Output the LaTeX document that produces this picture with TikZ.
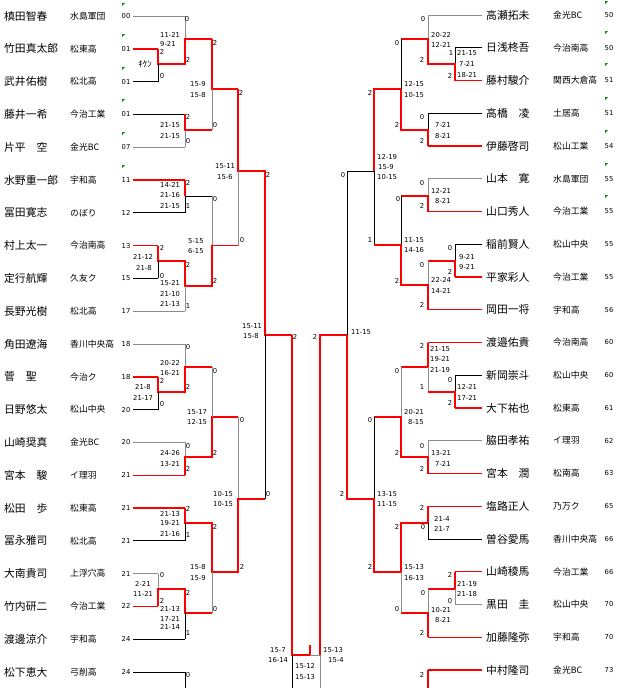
\documentclass[tikz,border=0pt]{standalone}
\usepackage{fontspec}
\setmainfont{Noto Sans CJK JP}
\newfontfamily\scfont{DejaVu Sans}
\usepackage{tikz}
\usetikzlibrary{positioning}

\tikzset{
 win/.style={draw=red, line width=1.4pt},
 lose/.style={draw=black, line width=0.8pt},
 dim/.style={draw=black!45, line width=1pt},
 pname/.style={anchor=west, inner sep=0pt, font=\fontsize{10.8}{11}\selectfont},
 pteam/.style={anchor=west, inner sep=0pt, font=\fontsize{8.8}{9}\selectfont},
 pno/.style={inner sep=0pt, font=\scfont\fontsize{6.8}{7}\selectfont},
 sc/.style={anchor=west, inner sep=0pt, font=\scfont\fontsize{6.8}{7}\selectfont},
 pt/.style={inner sep=0pt, font=\scfont\fontsize{6.8}{7}\selectfont},
 flag/.style={fill=green!55!black, draw=none},
}

\begin{document}
\begin{tikzpicture}[x=1pt,y=-1pt]
\useasboundingbox (0,0) rectangle (620,688);

% left players
\foreach \i/\nm/\tm/\no/\st/\len in {
 1/槙田智春/水島軍団/00/dim/52, 2/竹田真太郎/松東高/01/win/25,
 3/武井佑樹/松北高/01/lose/25, 4/藤井一希/今治工業/01/lose/52,
 5/片平　空/金光BC/07/dim/52, 6/水野重一郎/宇和高/11/win/52,
 7/冨田寛志/のぼり/12/lose/52, 8/村上太一/今治南高/13/win/25,
 9/定行航輝/久友ク/15/lose/25, 10/長野光樹/松北高/17/dim/52,
 11/角田遼海/香川中央高/18/dim/52, 12/菅　聖/今治ク/18/win/25,
 13/日野悠太/松山中央/20/lose/25, 14/山崎奨真/金光BC/20/dim/52,
 15/宮本　駿/イ理羽/21/win/52, 16/松田　歩/松東高/21/win/52,
 17/冨永雅司/松北高/21/lose/52, 18/大南貴司/上浮穴高/21/dim/25,
 19/竹内研二/今治工業/22/win/25, 20/渡邊涼介/宇和高/24/lose/52,
 21/松下恵大/弓削高/24/lose/52}{
 \pgfmathsetmacro{\yy}{16+32.8*(\i-1)}
 \node[pname] (nl\i) at (4,\yy) {\nm};
 \node[pteam] (tl\i) at (70,\yy) {\tm};
 \node[pno] (kl\i) at (126,\yy) {\no};
 \coordinate (l\i) at (133,\yy);
 \draw[\st] (l\i) -- ++(\len,0);
}

% right players
\foreach \i/\nm/\tm/\no/\st/\len in {
 1/高瀬拓未/金光BC/50/dim/54, 2/日浅柊吾/今治南高/50/lose/27,
 3/藤村駿介/関西大倉高/51/win/27, 4/高橋　凌/土居高/51/lose/54,
 5/伊藤啓司/松山工業/54/win/54, 6/山本　寛/水島軍団/55/dim/54,
 7/山口秀人/今治工業/55/win/54, 8/稲前賢人/松山中央/55/lose/27,
 9/平家彩人/今治工業/55/win/27, 10/岡田一将/宇和高/56/win/54,
 11/渡邉佑貴/今治南高/60/win/54, 12/新岡崇斗/松山中央/60/lose/27,
 13/大下祐也/松東高/61/win/27, 14/脇田孝祐/イ理羽/62/dim/54,
 15/宮本　潤/松南高/63/win/54, 16/塩路正人/乃万ク/65/win/54,
 17/曽谷愛馬/香川中央高/66/lose/54, 18/山崎稜馬/今治工業/66/win/27,
 19/黒田　圭/松山中央/70/dim/27, 20/加藤隆弥/宇和高/70/win/54,
 21/中村隆司/金光BC/73/win/54}{
 \pgfmathsetmacro{\yy}{15+32.75*(\i-1)}
 \node[pname] (nr\i) at (486,\yy) {\nm};
 \node[pteam] (tr\i) at (553,\yy) {\tm};
 \node[pno] (kr\i) at (609,\yy) {\no};
 \coordinate (r\i) at (482,\yy);
 \draw[\st] (r\i) -- ++(-\len,0);
}

% flags
\foreach \x/\y [count=\k] in {122/3,122/34,122/67,122/99,122/132,122/165,
 605/1,605/31,605/63,605/97,605/130,605/163,605/195}
 \fill[flag] (\x,\y) -- ++(3,0) -- ++(-3,3) -- cycle;

% left bracket
\draw[dim] (185,16) -- (185,39);
\draw[win] (158,48.8) -- (158,64) -- (185,64) -- (185,39) -- (212,39);
\draw[lose] (158,64) -- (158,81.6);
\draw[win] (185,114.4) -- (185,130) -- (212,130);
\draw[dim] (185,130) -- (185,147.2);
\draw[win] (212,39) -- (212,89) -- (238,89);
\draw[dim] (212,89) -- (212,130);
\draw[win] (185,180) -- (185,196);
\draw[lose] (185,196) -- (185,212.8);
\draw[lose] (185,196) -- (212,196);
\draw[dim] (212,196) -- (212,245.6);
\draw[win] (158,245.6) -- (158,261) -- (185,261) -- (185,286) -- (212,286) -- (212,245.6) -- (238,245.6);
\draw[lose] (158,261) -- (158,278.4);
\draw[dim] (185,286) -- (185,311.2);
\draw[win] (238,89) -- (238,171) -- (265,171) -- (265,335) -- (292,335);
\draw[dim] (238,171) -- (238,245.6);
\draw[lose] (265,335) -- (265,499);
\draw[dim] (185,344) -- (185,367);
\draw[win] (158,376.8) -- (158,392) -- (185,392) -- (185,367) -- (212,367);
\draw[lose] (158,392) -- (158,409.6);
\draw[dim] (185,442.4) -- (185,457);
\draw[win] (185,475.2) -- (185,457) -- (212,457) -- (212,417) -- (238,417);
\draw[dim] (212,367) -- (212,417);
\draw[dim] (238,417) -- (238,499);
\draw[win] (185,508) -- (185,523) -- (212,523) -- (212,572) -- (238,572) -- (238,499) -- (265,499);
\draw[lose] (185,523) -- (185,540.8);
\draw[dim] (158,573.6) -- (158,589);
\draw[win] (158,606.4) -- (158,589) -- (185,589) -- (185,613) -- (212,613);
\draw[lose] (185,613) -- (185,639.2);
\draw[dim] (212,572) -- (212,613);
\draw[lose] (185,672) -- (185,688);

% final
\draw[win] (292,335) -- (292,655) -- (310,655) -- (310,645);
\draw[dim] (310,655) -- (320,655);
\draw[win] (347,335) -- (320,335) -- (320,655);
\draw[lose] (292,655) -- (292,688);
\draw[dim] (320,655) -- (320,688);

% right bracket
\draw[dim] (428,15) -- (428,39);
\draw[lose] (455,47.75) -- (455,64);
\draw[win] (455,80.5) -- (455,64) -- (428,64) -- (428,39) -- (401,39);
\draw[lose] (428,113.25) -- (428,130);
\draw[win] (428,146) -- (428,130) -- (401,130) -- (401,89) -- (374,89) -- (374,171);
\draw[lose] (401,39) -- (401,89);
\draw[lose] (374,171) -- (374,245);
\draw[lose] (374,171) -- (347,171) -- (347,335);
\draw[dim] (428,178.75) -- (428,196);
\draw[win] (428,211.5) -- (428,196) -- (401,196);
\draw[lose] (401,196) -- (401,245);
\draw[lose] (455,244.25) -- (455,261);
\draw[win] (455,277) -- (455,261) -- (428,261);
\draw[dim] (428,261) -- (428,285);
\draw[win] (428,309.75) -- (428,285) -- (401,285) -- (401,245) -- (374,245);
\draw[win] (428,342.5) -- (428,367) -- (401,367);
\draw[dim] (428,367) -- (428,392);
\draw[lose] (455,375.25) -- (455,392);
\draw[win] (455,408) -- (455,392) -- (428,392);
\draw[dim] (401,367) -- (401,417);
\draw[dim] (428,440.75) -- (428,457);
\draw[win] (428,473.5) -- (428,457) -- (401,457) -- (401,417) -- (374,417);
\draw[lose] (374,417) -- (374,499);
\draw[win] (428,506.25) -- (428,523) -- (401,523) -- (401,572) -- (374,572) -- (374,499) -- (347,499) -- (347,335);
\draw[lose] (428,523) -- (428,539);
\draw[win] (455,571.75) -- (455,589) -- (428,589);
\draw[dim] (455,589) -- (455,604.5);
\draw[dim] (428,589) -- (428,613);
\draw[win] (428,637.25) -- (428,613) -- (401,613);
\draw[dim] (401,572) -- (401,613);
\draw[win] (428,670) -- (428,688);

% scores
\foreach \x/\y/\t [count=\k] in {
 160/35/11-21, 160/44/9-21, 160/125/21-15, 160/136/21-15, 190/84/15-9, 190/95/15-8,
 215/166/15-11, 217/177/15-6, 160/185/14-21, 160/195/21-16, 160/206/21-15,
 188/241/5-15, 188/251/6-15, 133/257/21-12, 136/268/21-8,
 160/283/15-21, 160/294/21-10, 160/304/21-13, 242/326/15-11, 243/336/15-8,
 160/363/20-22, 160/373/16-21, 135/387/21-8, 133/398/21-17,
 187/412/15-17, 187/422/12-15, 160/453/24-26, 160/464/13-21,
 213/494/10-15, 213/504/10-15, 160/514/21-13, 160/523/19-21, 160/534/21-16,
 190/567/15-8, 190/578/15-9, 135/584/2-21, 133/594/11-21,
 160/609/21-13, 160/619/17-21, 160/627/21-14,
 270/650/15-7, 268/660/16-14, 295/666/15-12, 295/677/15-13, 323/650/15-13, 328/660/15-4,
 431/35/20-22, 431/45/12-21, 457/53/21-15, 459/64/7-21, 457/75/18-21,
 404/84/12-15, 404/95/10-15, 435/125/7-21, 435/136/8-21,
 377/157/12-19, 378/167/15-9, 377/177/10-15, 431/191/12-21, 435/201/8-21,
 404/240/11-15, 404/250/14-16, 459/257/9-21, 459/267/9-21,
 431/280/22-24, 431/291/14-21, 351/332/11-15,
 430/349/21-15, 430/359/19-21, 430/370/21-19, 457/387/12-21, 457/398/17-21,
 404/412/20-21, 408/422/8-15, 431/453/13-21, 435/464/7-21,
 377/494/13-15, 377/504/11-15, 434/519/21-4, 434/529/21-7,
 404/567/15-13, 404/578/16-13, 457/584/21-19, 457/594/21-18,
 431/610/10-21, 435/620/8-21}
 \node[sc] (s\k) at (\x,\y) {\t};

% points
\foreach \x/\y/\t [count=\k] in {
 187/19/0, 162/52/2, 162/76/0, 188/60/2, 188/117/2, 188/141/0, 215/43/2, 215/125/0,
 241/93/2, 268/175/2, 188/183/2, 188/206/1, 215/199/0, 242/240/0, 215/281/2,
 162/248/2, 162/276/0, 188/265/2, 188/306/1, 295/337/2, 188/347/0, 162/381/2,
 188/387/2, 162/404/0, 215/371/0, 242/420/0, 188/446/0, 188/469/2, 215/453/2,
 268/494/0, 188/509/2, 188/535/1, 215/527/2, 242/567/2, 162/575/0, 162/601/2,
 188/593/2, 188/633/1, 215/609/0, 188/675/0, 315/337/2,
 423/19/0, 422/60/2, 451/53/1, 450/76/2, 397/43/0, 397/125/2, 370/93/2,
 422/117/0, 422/141/2, 343/175/0, 422/183/0, 422/206/2, 398/199/0, 370/240/1,
 450/248/0, 450/272/2, 422/265/0, 422/305/2, 397/281/2, 422/346/2, 422/387/1,
 450/380/0, 450/403/2, 397/371/0, 370/420/0, 397/453/2, 422/446/0, 422/469/2,
 342/494/2, 422/508/2, 423/527/0, 397/527/2, 370/567/2, 397/609/0, 450/575/2,
 450/601/0, 423/593/0, 422/633/2, 422/675/2}
 \node[pt] (p\k) at (\x,\y) {\t};

\node[pt, font=\fontsize{9}{9}\selectfont] (kiken) at (145,64) {ｷｹﾝ};
\end{tikzpicture}
\end{document}
